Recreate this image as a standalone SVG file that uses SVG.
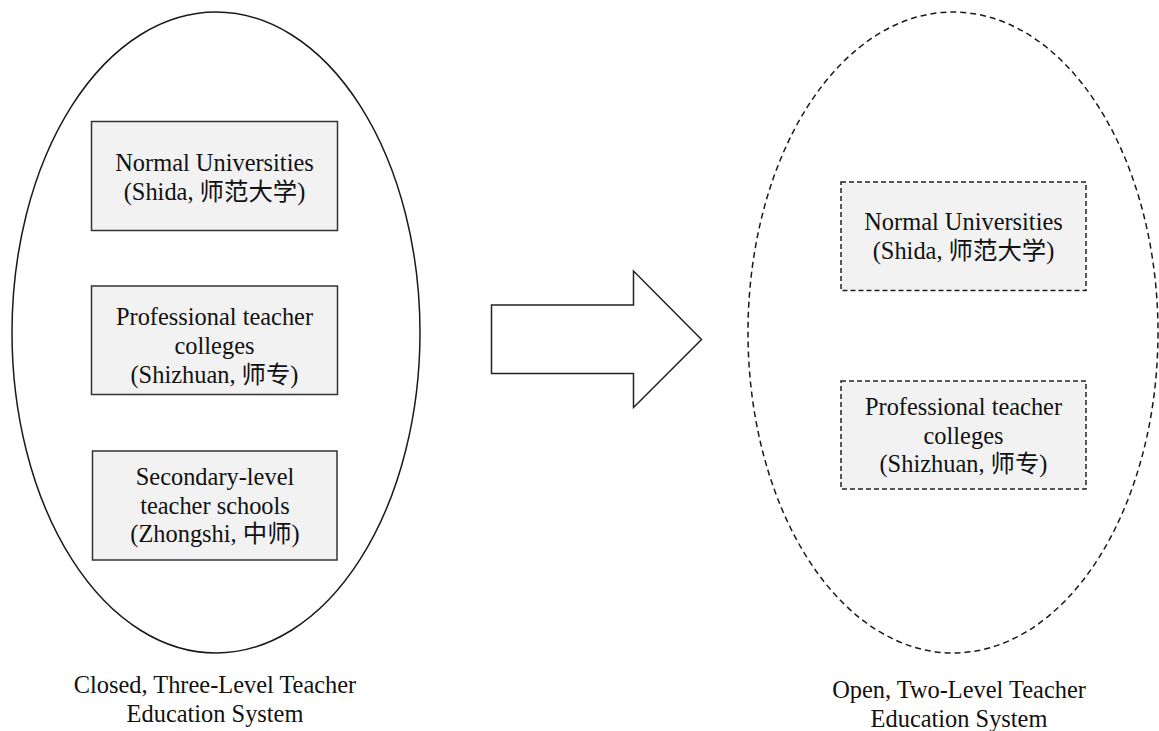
<svg xmlns="http://www.w3.org/2000/svg" width="1159" height="731" viewBox="0 0 1159 731">
<style>
  .bg { fill: #ffffff; }
  .ell { fill: none; stroke: #1a1a1a; stroke-width: 1.5; }
  .dash { stroke-dasharray: 6 4; }
  .box { fill: #f2f2f2; stroke: #333333; stroke-width: 1.5; }
  .dbox { fill: #f2f2f2; stroke: #222222; stroke-width: 1.5; stroke-dasharray: 5 3; }
  .arrow { fill: #ffffff; stroke: #222222; stroke-width: 1.5; stroke-linejoin: miter; }
  text { font-family: "Liberation Serif", "Noto Sans CJK SC", serif; font-size: 24.4px; fill: #111111; text-anchor: middle; }
</style>
<rect class="bg" x="0" y="0" width="1159" height="731"/>

<g id="closed-system">
  <ellipse class="ell" cx="216" cy="332.5" rx="204" ry="320.5"/>
  <text x="215" y="693">Closed, Three-Level Teacher</text>
  <text x="215" y="722">Education System</text>
</g>

<g id="open-system">
  <ellipse class="ell dash" cx="953" cy="332.5" rx="205" ry="320.5"/>
  <text x="959" y="698">Open, Two-Level Teacher</text>
  <text x="959" y="727">Education System</text>
</g>

<g id="left-normal-universities">
  <rect class="box" x="91.5" y="121.5" width="246" height="109"/>
  <text x="214.5" y="170.5">Normal Universities</text>
  <text x="214.5" y="199.5">(Shida, 师范大学)</text>
</g>

<g id="left-professional-colleges">
  <rect class="box" x="91.5" y="286" width="246" height="108.5"/>
  <text x="214.5" y="325">Professional teacher</text>
  <text x="214.5" y="354">colleges</text>
  <text x="214.5" y="382.5">(Shizhuan, 师专)</text>
</g>

<g id="left-secondary-schools">
  <rect class="box" x="92.5" y="451" width="244.5" height="109"/>
  <text x="215" y="485">Secondary-level</text>
  <text x="215" y="514">teacher schools</text>
  <text x="215" y="542">(Zhongshi, 中师)</text>
</g>

<g id="right-normal-universities">
  <rect class="dbox" x="841" y="182" width="245" height="108.5"/>
  <text x="963.5" y="230">Normal Universities</text>
  <text x="963.5" y="259">(Shida, 师范大学)</text>
</g>

<g id="right-professional-colleges">
  <rect class="dbox" x="841" y="381" width="245" height="108"/>
  <text x="963.5" y="415">Professional teacher</text>
  <text x="963.5" y="444">colleges</text>
  <text x="963.5" y="472">(Shizhuan, 师专)</text>
</g>

<g id="connectors">
  <polygon class="arrow" points="491.5,305 633.5,305 633.5,271 701.5,339.5 633.5,407.5 633.5,373.5 491.5,373.5"/>
</g>
</svg>
